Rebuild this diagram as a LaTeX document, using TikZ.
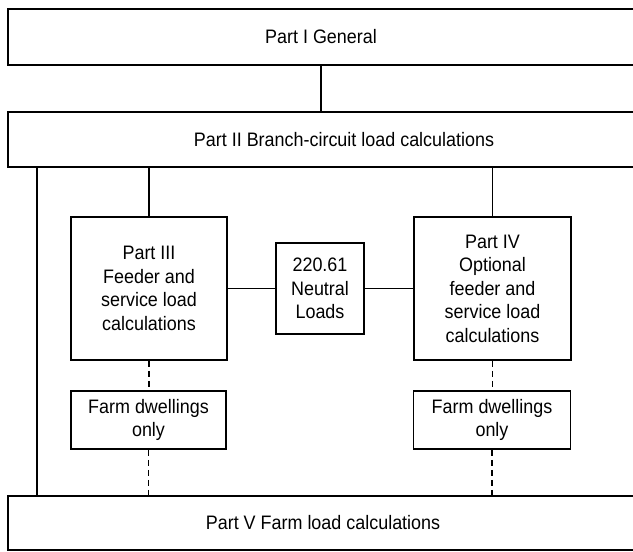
\documentclass[tikz,border=0pt]{standalone}
\usepackage{fontspec}
\setmainfont{Liberation Sans}[FakeStretch=0.92]
\begin{document}
\begin{tikzpicture}[x=1pt,y=-1pt,
  box/.style={draw, line width=1.6pt, align=center, inner sep=0pt,
    font=\fontsize{19.5}{23.5}\selectfont},
  conn/.style={line width=1.3pt},
  dconn/.style={line width=1.3pt, dash pattern=on 6pt off 4pt}]
\useasboundingbox (0,0) rectangle (633,552);
\clip (0,0) rectangle (633,552);
\fill[white] (0,0) rectangle (633,552);
\node[box, minimum width=626pt, minimum height=56pt] (p1) at (321,37) {Part I General};
\node[box, minimum width=672pt, minimum height=55pt] (p2) at (344,139.5) {Part II Branch-circuit load calculations};
\node[box, minimum width=156pt, minimum height=143pt] (p3) at (149,288.5) {Part III\\Feeder and\\service load\\calculations};
\node[box, minimum width=88pt, minimum height=91pt] (nl) at (320,288.5) {220.61\\Neutral\\Loads};
\node[box, minimum width=157pt, minimum height=143pt] (p4) at (492.5,288.5) {Part IV\\Optional\\feeder and\\service load\\calculations};
\node[box, minimum width=155pt, minimum height=58pt] (f1) at (148.5,420) {Farm dwellings\\only};
\node[box, minimum width=157pt, minimum height=58pt] (f2) at (492,420) {Farm dwellings\\only};
\node[box, minimum width=630pt, minimum height=54pt] (p5) at (323,523) {Part V Farm load calculations};
\coordinate (lx) at (37,0);
\draw[conn] (p1.south) -- (p2.north -| p1.south);
\draw[conn] (p2.south -| lx) -- (p5.north -| lx);
\draw[conn] (p2.south -| p3.north) -- (p3.north);
\draw[conn] (p2.south -| p4.north) -- (p4.north);
\draw[conn] (p3.east) -- (nl.west);
\draw[conn] (nl.east) -- (p4.west);
\draw[dconn] (p3.south) -- (f1.north -| p3.south);
\draw[dconn] (f1.south) -- (p5.north -| f1.south);
\draw[dconn] (p4.south) -- (f2.north -| p4.south);
\draw[dconn] (f2.south) -- (p5.north -| f2.south);
\end{tikzpicture}
\end{document}
